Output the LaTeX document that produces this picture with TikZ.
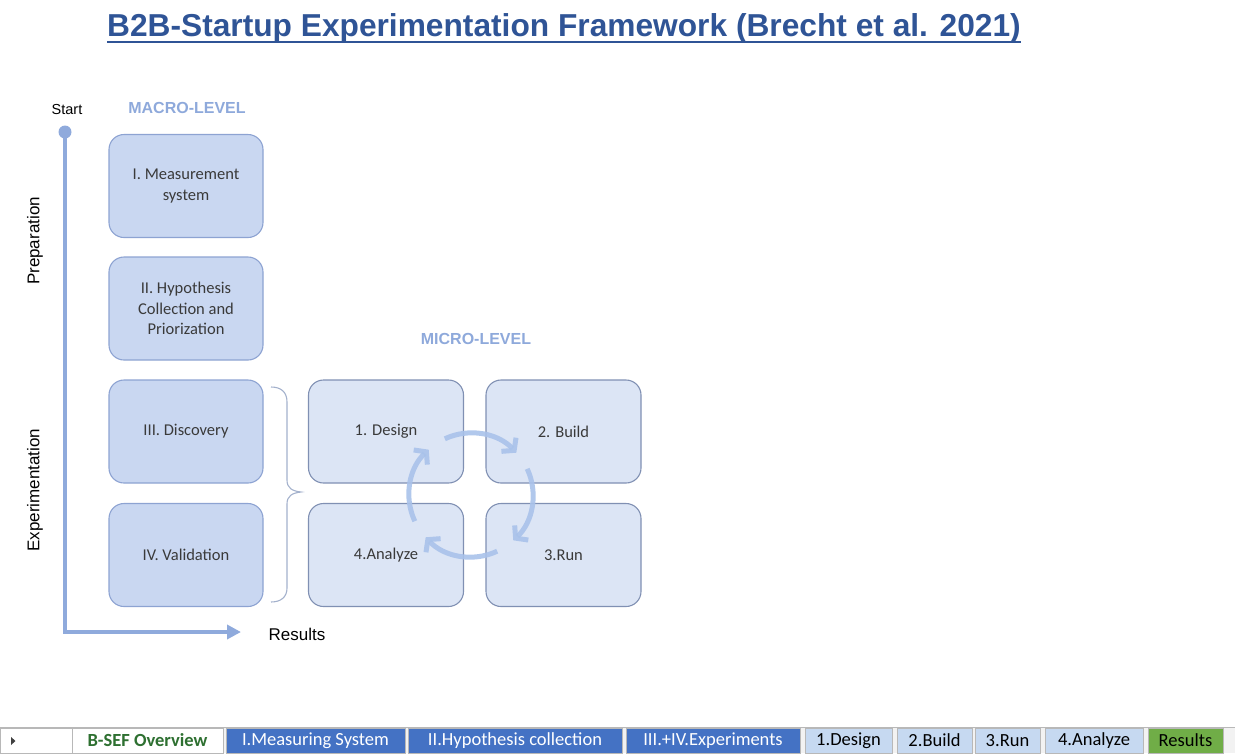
\documentclass[tikz,border=0pt]{standalone}
\usepackage{fontspec}
\setmainfont{Liberation Sans}
\newfontfamily\calib{Carlito}
\usetikzlibrary{arrows.meta}
\definecolor{titleblue}{HTML}{2F5496}
\definecolor{levelblue}{HTML}{8EA9DB}
\definecolor{axisblue}{HTML}{8FAADC}
\definecolor{macrofill}{HTML}{C9D7F1}
\definecolor{macroedge}{HTML}{8DA3D2}
\definecolor{microfill}{HTML}{DCE5F5}
\definecolor{microedge}{HTML}{8090B3}
\definecolor{boxtext}{HTML}{3A3A3A}
\definecolor{cyccol}{HTML}{A9C2EA}
\definecolor{bracecol}{HTML}{A3B1CC}
\definecolor{tabblue}{HTML}{4472C4}
\definecolor{tablight}{HTML}{C6D9F1}
\definecolor{tabgreen}{HTML}{70AD47}
\definecolor{tabedge}{HTML}{B8B8B8}
\definecolor{tabstrip}{HTML}{F2F2F2}
\definecolor{sefgreen}{HTML}{2E7031}
\begin{document}
\begin{tikzpicture}[x=1pt,y=-1pt,
  macrobox/.style={draw=macroedge, fill=macrofill, line width=1.1pt, rounded corners=15pt,
    minimum width=154pt, minimum height=103pt, align=center, inner sep=0pt,
    font=\calib\fontsize{16.5}{20.5}\selectfont, text=boxtext},
  microbox/.style={macrobox, draw=microedge, fill=microfill, minimum width=155pt},
  levellbl/.style={font=\bfseries\fontsize{16}{18}\selectfont, text=levelblue, inner sep=0pt},
  axislbl/.style={font=\fontsize{17}{19}\selectfont, text=black, inner sep=0pt},
  axisline/.style={draw=axisblue, line width=4pt},
  cycarrow/.style={draw=cyccol, line width=5pt, opacity=0.9, -{Straight Barb[length=8pt,width=20pt]}},
  tab/.style={draw=tabedge, line width=0.6pt, minimum height=25pt, inner sep=0pt,
    font=\calib\fontsize{18.5}{20}\selectfont},
  tabdark/.style={tab, fill=tabblue, text=white},
  tablt/.style={tab, fill=tablight, text=black},
]
\useasboundingbox (0,0) rectangle (1235,753);

% title
\node[anchor=base west, inner sep=0pt, font=\bfseries\fontsize{31.7}{36}\selectfont, text=titleblue] (title) at (107,36)
  {B2B-Startup Experimentation Framework (Brecht et al. 2021)};
\draw[titleblue, line width=2.4pt] ([yshift=1pt]title.south west) -- ([yshift=1pt]title.south east);

% labels
\node[font=\fontsize{14.5}{16}\selectfont, inner sep=0pt] (startlbl) at (67,110) {Start};
\node[levellbl] (macrolbl) at (187,108) {MACRO-LEVEL};
\node[levellbl] (microlbl) at (476,339) {MICRO-LEVEL};
\node[axislbl, rotate=90] (prep) at (35,241) {Preparation};
\node[axislbl, rotate=90] (expt) at (35,490) {Experimentation};
\node[axislbl] (results) at (297,634) {Results};

% axis
\coordinate (axstart) at (65,132);
\coordinate (axcorner) at (65,632);
\coordinate (axend) at (241,632);
\draw[axisline, -{Triangle[length=14pt,width=14pt]}] (axstart) -- (axcorner) -- (axend);
\fill[axisblue] (axstart) circle[radius=6.5];

% macro boxes
\node[macrobox] (m1) at (186,186) {I. Measurement\\system};
\node[macrobox] (m2) at (186,308.5) {II. Hypothesis\\Collection and\\Priorization};
\node[macrobox] (m3) at (186,431.5) {III. Discovery};
\node[macrobox] (m4) at (186,555) {IV. Validation};

% micro boxes
\node[microbox] (design) at (386,431.5) {1. Design};
\node[microbox] (build) at (563.5,431.5) {2. Build};
\node[microbox] (analyze) at (386,555) {4.Analyze};
\node[microbox] (run) at (563.5,555) {3.Run};

% brace
\coordinate (bt) at (271,387);
\coordinate (bm) at (301,492);
\coordinate (bb) at (271,602);
\draw[bracecol, line width=1.1pt] (bt) .. controls (281,387) and (287,392) .. (287,402) -- (287,480)
  .. controls (287,488) and (292,491) .. (bm) .. controls (292,493) and (287,496) .. (287,504)
  -- (287,588) .. controls (287,597) and (281,602) .. (bb);

% cycle arrows
\coordinate (cyc) at (471,495);
\draw[cycarrow] (cyc) ++(-115:62) arc[start angle=-115, end angle=-43, radius=62];
\draw[cycarrow] (cyc) ++(-25:62) arc[start angle=-25, end angle=47, radius=62];
\draw[cycarrow] (cyc) ++(65:62) arc[start angle=65, end angle=137, radius=62];
\draw[cycarrow] (cyc) ++(155:62) arc[start angle=155, end angle=227, radius=62];

% tab strip
\fill[tabstrip] (0,727) rectangle (1235,753);
\draw[tabedge, line width=0.6pt] (0,727.5) -- (1235,727.5);
\draw[tabedge, line width=0.6pt, fill=white] (0.5,728) rectangle (72,753);
\fill[black!75] (11,737) -- (15.5,741) -- (11,745) -- cycle;
\node[tab, fill=white, text=sefgreen, minimum width=151pt, font=\calib\bfseries\fontsize{18.5}{20}\selectfont] (t0) at (147.5,740.5) {B-SEF Overview};
\node[tabdark, minimum width=179pt] (t1) at (315.5,740.5) {I.Measuring System};
\node[tabdark, minimum width=214pt] (t2) at (515,740.5) {II.Hypothesis collection};
\node[tabdark, minimum width=174pt] (t3) at (713,740.5) {III.+IV.Experiments};
\node[tablt, minimum width=87pt] (t4) at (848.5,740.5) {1.Design};
\node[tablt, minimum width=75pt] (t5) at (934.5,740.5) {2.Build};
\node[tablt, minimum width=65pt] (t6) at (1007.5,740.5) {3.Run};
\node[tablt, minimum width=98pt] (t7) at (1094,740.5) {4.Analyze};
\node[tab, fill=tabgreen, text=black, minimum width=75pt] (t8) at (1185.5,740.5) {Results};
\end{tikzpicture}
\end{document}
